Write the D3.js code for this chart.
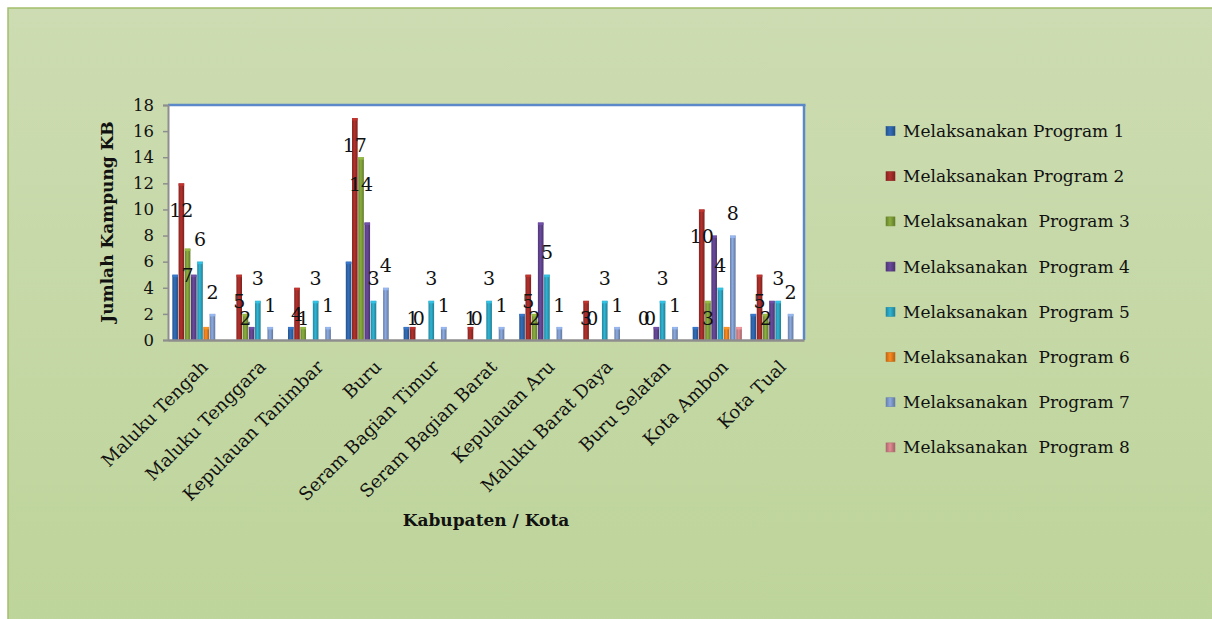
<!DOCTYPE html>
<html>
<head>
<meta charset="utf-8">
<script src="https://cdn.jsdelivr.net/npm/d3@7"></script>
<style>
  body { margin: 0; background: #ffffff; }
  svg { display: block; }
  text { font-family: "DejaVu Serif", "Liberation Serif", serif; fill: #111; }
</style>
</head>
<body>
<svg id="chart" width="1212" height="619"></svg>
<script>
// Kabupaten / Kota
const categories = [
  "Maluku Tengah", "Maluku Tenggara", "Kepulauan Tanimbar", "Buru",
  "Seram Bagian Timur", "Seram Bagian Barat", "Kepulauan Aru",
  "Maluku Barat Daya", "Buru Selatan", "Kota Ambon", "Kota Tual"
];

const seriesNames = [
  "Melaksanakan Program 1", "Melaksanakan Program 2", "Melaksanakan  Program 3",
  "Melaksanakan  Program 4", "Melaksanakan  Program 5", "Melaksanakan  Program 6",
  "Melaksanakan  Program 7", "Melaksanakan  Program 8"
];

// Jumlah kampung KB per program
const program1 = [5, 0, 1, 6, 1, 0, 2, 0, 0, 1, 2];
const program2 = [12, 5, 4, 17, 1, 1, 5, 3, 0, 10, 5];
const program3 = [7, 2, 1, 14, 0, 0, 2, 0, 0, 3, 2];
const program4 = [5, 1, 0, 9, 0, 0, 9, 0, 1, 8, 3];
const program5 = [6, 3, 3, 3, 3, 3, 5, 3, 3, 4, 3];
const program6 = [1, 0, 0, 0, 0, 0, 0, 0, 0, 1, 0];
const program7 = [2, 1, 1, 4, 1, 1, 1, 1, 1, 8, 2];
const program8 = [0, 0, 0, 0, 0, 0, 0, 0, 0, 1, 0];

const yTicks = [0, 2, 4, 6, 8, 10, 12, 14, 16, 18];

const seriesValues = [program1, program2, program3, program4, program5, program6, program7, program8];
const colors = ["#2d62a6", "#9e2b27", "#7b9a37", "#5e418b", "#2aa0bc", "#e07b1c", "#7c97c7", "#c97c82"];

// Series whose values are written on the chart, and where the label sits
const labelled = { 1: "inside", 2: "inside", 4: "outside", 6: "outside" };

const svg = d3.select("#chart");

// ---- background ----
const defs = svg.append("defs");
const bg = defs.append("linearGradient").attr("id", "bg").attr("x1", 0).attr("y1", 0).attr("x2", 0).attr("y2", 1);
bg.append("stop").attr("offset", 0).attr("stop-color", "#cddcb2");
bg.append("stop").attr("offset", 1).attr("stop-color", "#bdd49a");
svg.append("rect").attr("width", 1212).attr("height", 619).attr("fill", "#ffffff");
svg.append("rect").attr("x", 8).attr("y", 8).attr("width", 1210).attr("height", 620)
  .attr("fill", "url(#bg)").attr("stroke", "#a2bf6c").attr("stroke-width", 1.5);

// ---- bar gradients (rounded 3D look) ----
colors.forEach((c, i) => {
  const g = defs.append("linearGradient").attr("id", "bar" + i).attr("x1", 0).attr("x2", 1).attr("y1", 0).attr("y2", 0);
  const base = d3.color(c);
  g.append("stop").attr("offset", 0).attr("stop-color", base.darker(0.5));
  g.append("stop").attr("offset", 0.45).attr("stop-color", base.brighter(0.35));
  g.append("stop").attr("offset", 1).attr("stop-color", base.darker(0.7));
});

// ---- plot area ----
const plot = { left: 168, right: 804, top: 105, bottom: 340 };

svg.append("rect").attr("x", plot.left).attr("y", plot.top)
  .attr("width", plot.right - plot.left).attr("height", plot.bottom - plot.top)
  .attr("fill", "#ffffff");

const x0 = d3.scaleBand().domain(categories).range([plot.left, plot.right])
  .paddingInner(0.14).paddingOuter(0.07);
const x1 = d3.scaleBand().domain(d3.range(seriesValues.length)).range([0, x0.bandwidth()]);
const y = d3.scaleLinear().domain([0, 18]).range([plot.bottom, plot.top]);

// bars
const groups = svg.append("g").selectAll("g").data(categories).join("g")
  .attr("transform", d => `translate(${x0(d)},0)`);

groups.each(function (cat, ci) {
  const g = d3.select(this);
  seriesValues.forEach((vals, si) => {
    const v = vals[ci];
    if (v <= 0) return;
    const bx = x1(si) + 0.3, bw = x1.bandwidth() - 0.6;
    g.append("rect").attr("x", bx).attr("y", y(v)).attr("width", bw).attr("height", y(0) - y(v))
      .attr("fill", `url(#bar${si})`);
    g.append("rect").attr("x", bx).attr("y", y(v)).attr("width", bw).attr("height", 2.5)
      .attr("fill", d3.color(colors[si]).brighter(0.6)).attr("opacity", 0.85);
  });
});

// plot border: blue frame on top/right, grey axes on left/bottom
svg.append("line").attr("x1", plot.left).attr("x2", plot.right + 1.5).attr("y1", plot.top).attr("y2", plot.top)
  .attr("stroke", "#5a88c8").attr("stroke-width", 2.5);
svg.append("line").attr("x1", plot.right).attr("x2", plot.right).attr("y1", plot.top).attr("y2", plot.bottom)
  .attr("stroke", "#5a88c8").attr("stroke-width", 2.5);

// y axis
const yAxis = d3.axisLeft(y).tickValues(yTicks).tickSize(5).tickPadding(9);
const ya = svg.append("g").attr("transform", `translate(${plot.left},0)`).call(yAxis);
ya.select(".domain").attr("stroke", "#8e8e8e").attr("stroke-width", 2);
ya.selectAll(".tick line").attr("stroke", "#8e8e8e").attr("stroke-width", 1.5);
ya.selectAll(".tick text").attr("font-size", 16.5).attr("font-family", "DejaVu Serif, serif").attr("fill", "#222");

// x axis line
const xAxis = d3.axisBottom(x0).tickSize(0).tickFormat("");
const xa = svg.append("g").attr("transform", `translate(0,${plot.bottom})`).call(xAxis);
xa.select(".domain").attr("stroke", "#8e8e8e").attr("stroke-width", 2.5);

// rotated category labels
svg.append("g").selectAll("text").data(categories).join("text")
  .attr("transform", d => `translate(${x0(d) + x0.bandwidth() / 2 + 12},368) rotate(-45)`)
  .attr("text-anchor", "end")
  .attr("font-size", 18)
  .text(d => d);

// value labels
Object.entries(labelled).forEach(([si, pos]) => {
  si = +si;
  svg.append("g").selectAll("text").data(seriesValues[si]).join("text")
    .attr("x", (d, ci) => x0(categories[ci]) + x1(si) + x1.bandwidth() / 2)
    .attr("y", d => pos === "inside" ? Math.min(y(d) + 27, y(0) - 22) : y(d) - 22)
    .attr("dy", "0.35em")
    .attr("text-anchor", "middle")
    .attr("font-size", 19)
    .text(d => d);
});

// axis titles
svg.append("text").attr("transform", "translate(113,222) rotate(-90)")
  .attr("text-anchor", "middle").attr("font-size", 17).attr("font-weight", "bold")
  .text("Jumlah Kampung KB");
svg.append("text").attr("x", 486).attr("y", 526)
  .attr("text-anchor", "middle").attr("font-size", 17).attr("font-weight", "bold")
  .text("Kabupaten / Kota");

// legend
const legend = svg.append("g").selectAll("g").data(seriesNames).join("g")
  .attr("transform", (d, i) => `translate(886,${131 + i * 45.2})`);
legend.append("rect").attr("x", 0).attr("y", -4.5).attr("width", 9).attr("height", 9)
  .attr("fill", (d, i) => `url(#bar${i})`).attr("stroke", (d, i) => d3.color(colors[i]).darker(0.3)).attr("stroke-width", 0.6);
legend.append("text").attr("x", 17).attr("dy", "0.35em").attr("font-size", 17)
  .style("white-space", "pre").text(d => d);
</script>
</body>
</html>
